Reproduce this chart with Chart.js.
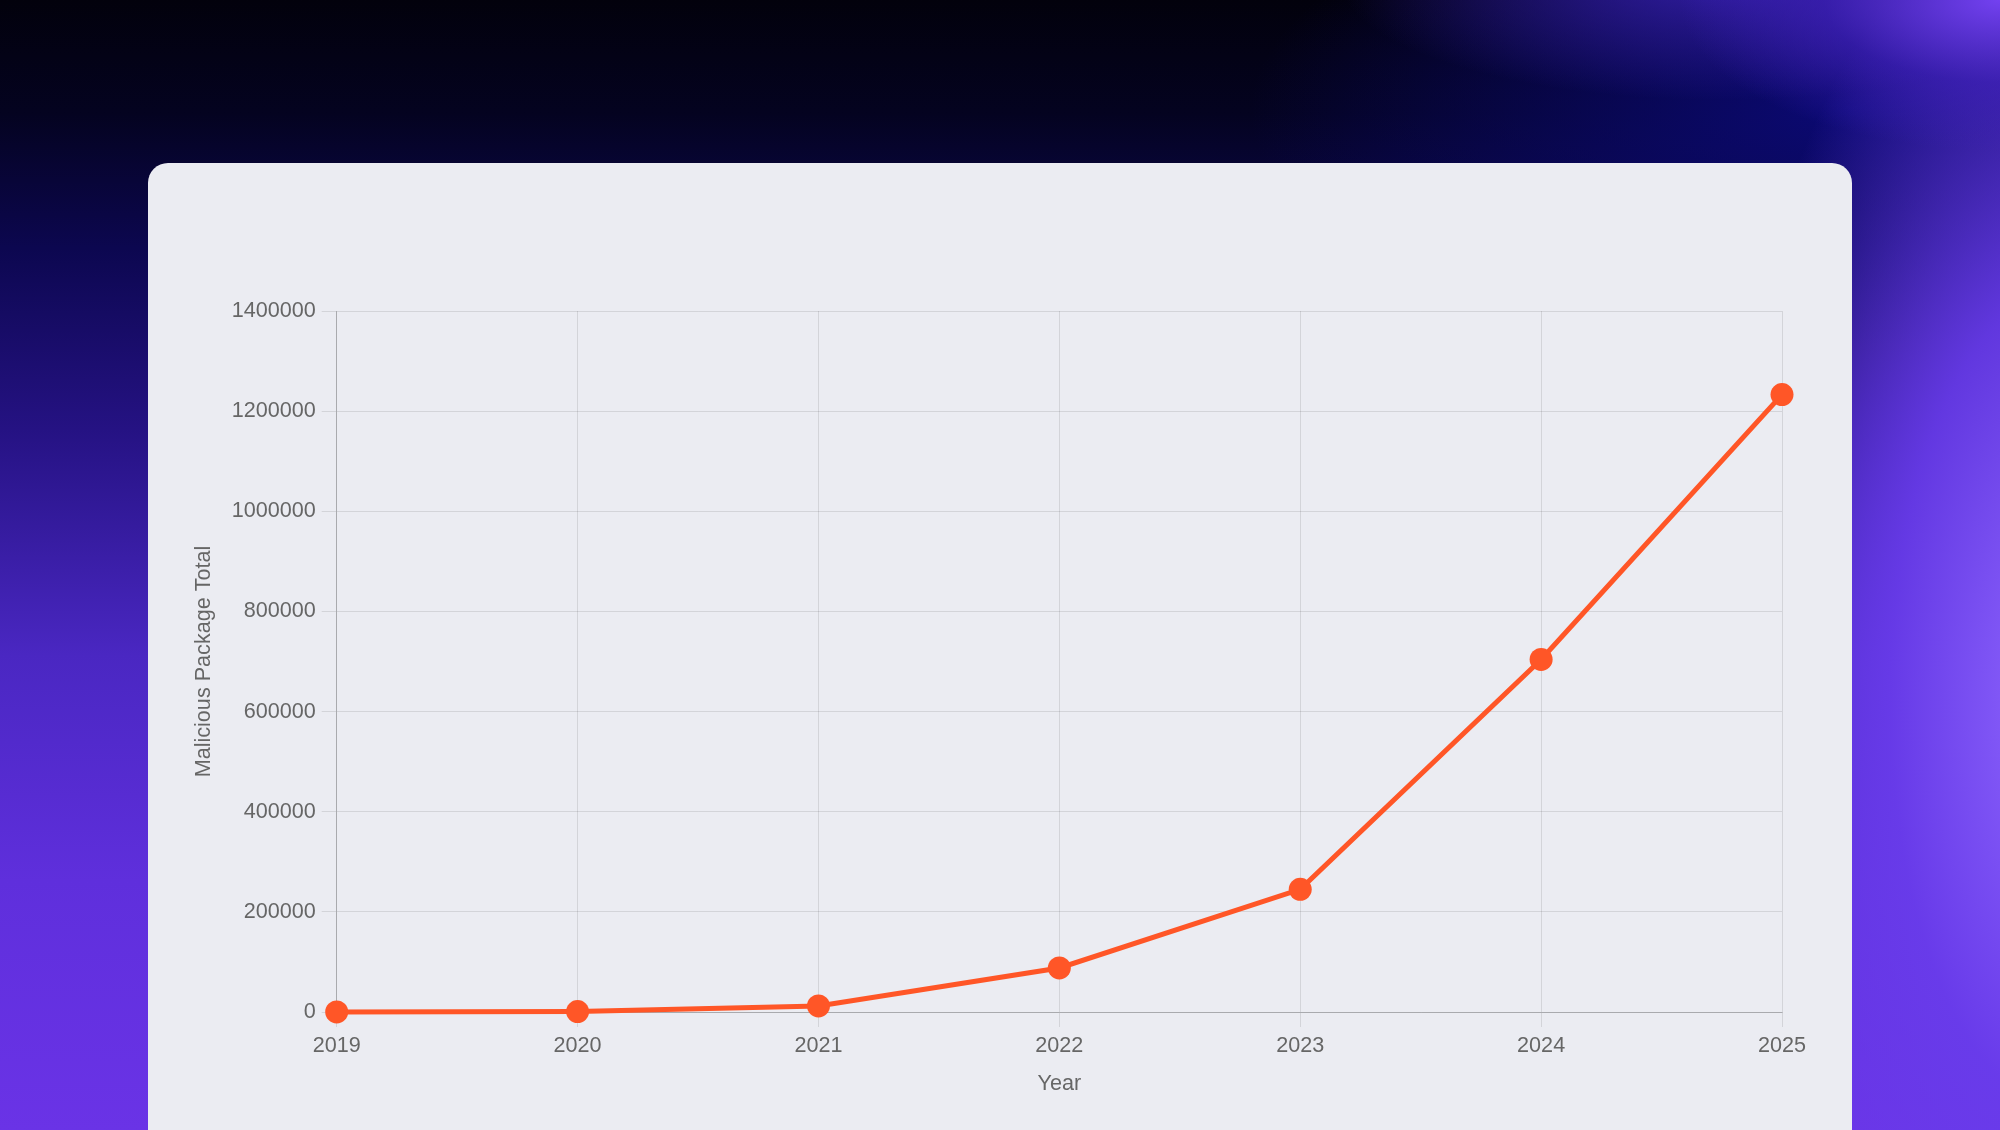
<!DOCTYPE html>
<html>
<head>
<meta charset="utf-8">
<title>Malicious Package Total</title>
<script src="https://cdn.jsdelivr.net/npm/chart.js@4.4.1/dist/chart.umd.min.js"></script>
<style>
  html, body {
    margin: 0;
    padding: 0;
    width: 2000px;
    height: 1130px;
    overflow: hidden;
  }
  body {
    position: relative;
    background:
      radial-gradient(ellipse 320px 150px at 2000px 0px, rgba(115, 65, 240, 1), rgba(70, 35, 200, 0.55) 55%, rgba(0, 0, 0, 0) 100%),
      radial-gradient(ellipse 380px 120px at 1720px -20px, rgba(60, 35, 190, 0.8), rgba(0, 0, 0, 0) 100%),
      radial-gradient(ellipse 360px 820px at 2070px 700px, rgba(145, 105, 255, 1), rgba(105, 60, 235, 0.9) 50%, rgba(0, 0, 0, 0) 100%),
      radial-gradient(ellipse 600px 240px at 1850px 110px, rgba(12, 10, 125, 0.9), rgba(0, 0, 0, 0) 100%),
      linear-gradient(180deg, #02010c 0%, #040320 10%, #0c0750 22%, #251283 38%, #4a27c2 58%, #5f2fdc 78%, #6a33e6 100%);
  }
  .card {
    position: absolute;
    left: 148px;
    top: 163px;
    width: 1704px;
    height: 1000px;
    background: #ebecf2;
    border-radius: 20px;
  }
  .chart-box {
    position: absolute;
    left: 0;
    top: 0;
    width: 1704px;
    height: 967px;
  }
</style>
</head>
<body>
<div class="card">
  <div class="chart-box"><canvas id="packagesChart"></canvas></div>
</div>

<script>
// Cumulative malicious packages per year
const years = ['2019', '2020', '2021', '2022', '2023', '2024', '2025'];
const packageTotals = [216, 929, 12000, 88000, 245032, 704102, 1233000];
const yTicks = [0, 200000, 400000, 600000, 800000, 1000000, 1200000, 1400000];

const textColor = '#666666';
const gridColor = 'rgba(0, 0, 0, 0.1)';
const lineColor = '#ff5627';

Chart.defaults.font.family = '"Liberation Sans", Arial, Helvetica, sans-serif';
Chart.defaults.font.size = 21.6;
Chart.defaults.color = textColor;

const ctx = document.getElementById('packagesChart').getContext('2d');
new Chart(ctx, {
  type: 'line',
  data: {
    labels: years,
    datasets: [{
      label: 'Malicious Package Total',
      data: packageTotals,
      borderColor: lineColor,
      backgroundColor: lineColor,
      borderWidth: 5,
      pointRadius: 11.5,
      pointHoverRadius: 11.5,
      pointBackgroundColor: lineColor,
      pointBorderWidth: 0,
      tension: 0,
      clip: false
    }]
  },
  options: {
    responsive: true,
    maintainAspectRatio: false,
    animation: false,
    layout: {
      padding: { top: 148, right: 70, bottom: 29, left: 39 }
    },
    plugins: {
      legend: { display: false },
      tooltip: { enabled: false }
    },
    scales: {
      x: {
        grid: { color: gridColor, tickLength: 15 },
        border: { color: 'rgba(0, 0, 0, 0.2)' },
        ticks: { color: textColor, padding: 6, maxRotation: 0 },
        title: { display: true, text: 'Year', color: textColor, padding: { top: 4, bottom: 4 } },
        afterFit: (scale) => { scale.height = 89; }
      },
      y: {
        min: 0,
        max: 1400000,
        grid: { color: gridColor, tickLength: 15 },
        border: { color: 'rgba(0, 0, 0, 0.2)' },
        afterBuildTicks: (scale) => { scale.ticks = yTicks.map(v => ({ value: v })); },
        ticks: { color: textColor, padding: 6, callback: (value) => String(value) },
        title: { display: true, text: 'Malicious Package Total', color: textColor, padding: { top: 4, bottom: 4 } },
        afterFit: (scale) => { scale.width = 149.7; }
      }
    }
  }
});
</script>
</body>
</html>
